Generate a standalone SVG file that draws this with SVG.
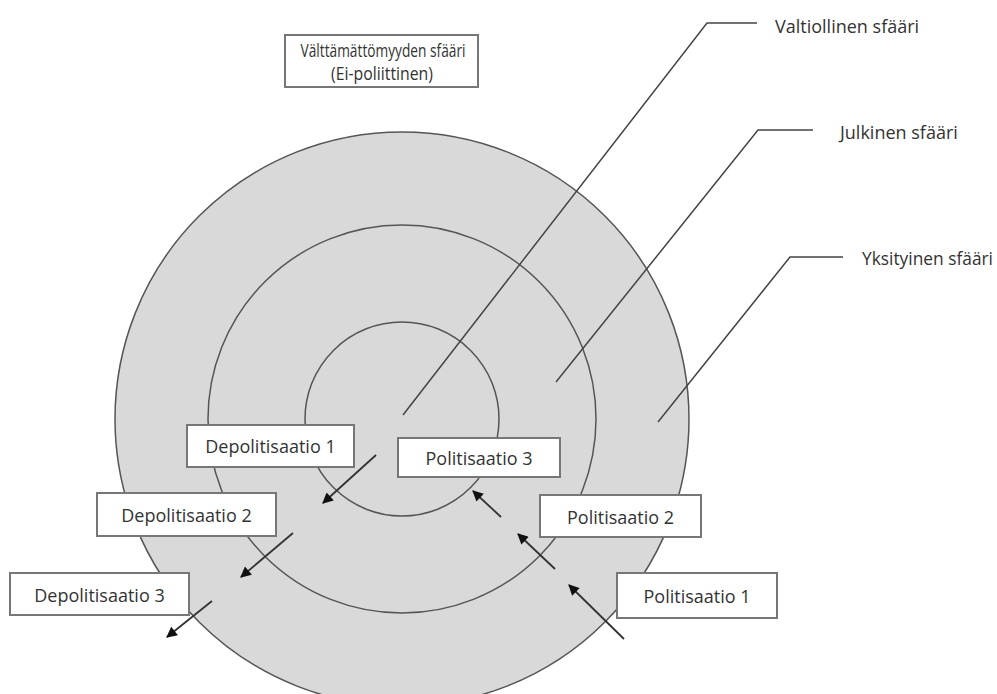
<svg xmlns="http://www.w3.org/2000/svg" width="997" height="694" viewBox="0 0 997 694">
<defs>
<style>
.ring{fill:#d9d9d9;stroke:#555;stroke-width:1.5}
.ringo{fill:none;stroke:#555;stroke-width:1.5}
.box{fill:#fff;stroke:#777;stroke-width:2}
.t{font-family:"Open Sans","Liberation Sans",sans-serif;font-size:18px;fill:#333;text-anchor:middle;dominant-baseline:central}
.tt{font-family:"Open Sans","Liberation Sans",sans-serif;font-size:18px;fill:#333;text-anchor:middle;dominant-baseline:central}
.tl{font-family:"Open Sans","Liberation Sans",sans-serif;font-size:18px;fill:#333;dominant-baseline:central}
.lead{fill:none;stroke:#444;stroke-width:1.5}
.arr{fill:none;stroke:#333;stroke-width:1.8;marker-end:url(#ah)}
</style>
<marker id="ah" viewBox="0 0 10 10" refX="9" refY="5" markerWidth="7" markerHeight="6" orient="auto" markerUnits="strokeWidth">
<path d="M0,0 L10,5 L0,10 z" fill="#111"/>
</marker>
</defs>
<rect width="997" height="694" fill="#fff"/>
<g id="spheres">
<circle class="ring" cx="402" cy="419" r="287"/>
<circle class="ringo" cx="402" cy="419" r="194"/>
<circle class="ringo" cx="402" cy="419" r="97"/>
</g>
<g id="connectors">
<polyline class="lead" points="403,415 707,23 757,23"/>
<polyline class="lead" points="556,382 758,130 813,130"/>
<polyline class="lead" points="658,422 790,257 843,257"/>
<line class="arr" x1="376" y1="455" x2="323" y2="503"/>
<line class="arr" x1="293" y1="533" x2="241" y2="577"/>
<line class="arr" x1="212" y1="601" x2="167" y2="637"/>
<line class="arr" x1="501" y1="517" x2="473" y2="491"/>
<line class="arr" x1="555" y1="569" x2="518" y2="534"/>
<line class="arr" x1="624" y1="639" x2="569" y2="585"/>
</g>
<g id="valttamattomyys">
<rect class="box" x="285" y="35" width="193" height="52"/>
<text class="tt" x="383" y="50" textLength="165" lengthAdjust="spacingAndGlyphs">Välttämättömyyden sfääri</text>
<text class="tt" x="382" y="73" textLength="102" lengthAdjust="spacingAndGlyphs">(Ei-poliittinen)</text>
</g>
<g id="valtiollinen"><text class="tl" x="775" y="26">Valtiollinen sfääri</text></g>
<g id="julkinen"><text class="tl" x="840" y="132">Julkinen sfääri</text></g>
<g id="yksityinen"><text class="tl" x="862" y="258" textLength="131" lengthAdjust="spacingAndGlyphs">Yksityinen sfääri</text></g>
<g id="depol1"><rect class="box" x="187" y="425" width="167" height="42"/><text class="t" x="270.5" y="446">Depolitisaatio 1</text></g>
<g id="depol2"><rect class="box" x="97" y="493" width="179" height="43"/><text class="t" x="186.5" y="515">Depolitisaatio 2</text></g>
<g id="depol3"><rect class="box" x="10" y="573" width="179" height="42"/><text class="t" x="99.5" y="595">Depolitisaatio 3</text></g>
<g id="pol3"><rect class="box" x="398" y="438" width="162" height="39"/><text class="t" x="479" y="458">Politisaatio 3</text></g>
<g id="pol2"><rect class="box" x="540" y="495" width="161" height="42"/><text class="t" x="620.5" y="517">Politisaatio 2</text></g>
<g id="pol1"><rect class="box" x="617" y="573" width="160" height="45"/><text class="t" x="697" y="596">Politisaatio 1</text></g>
</svg>
